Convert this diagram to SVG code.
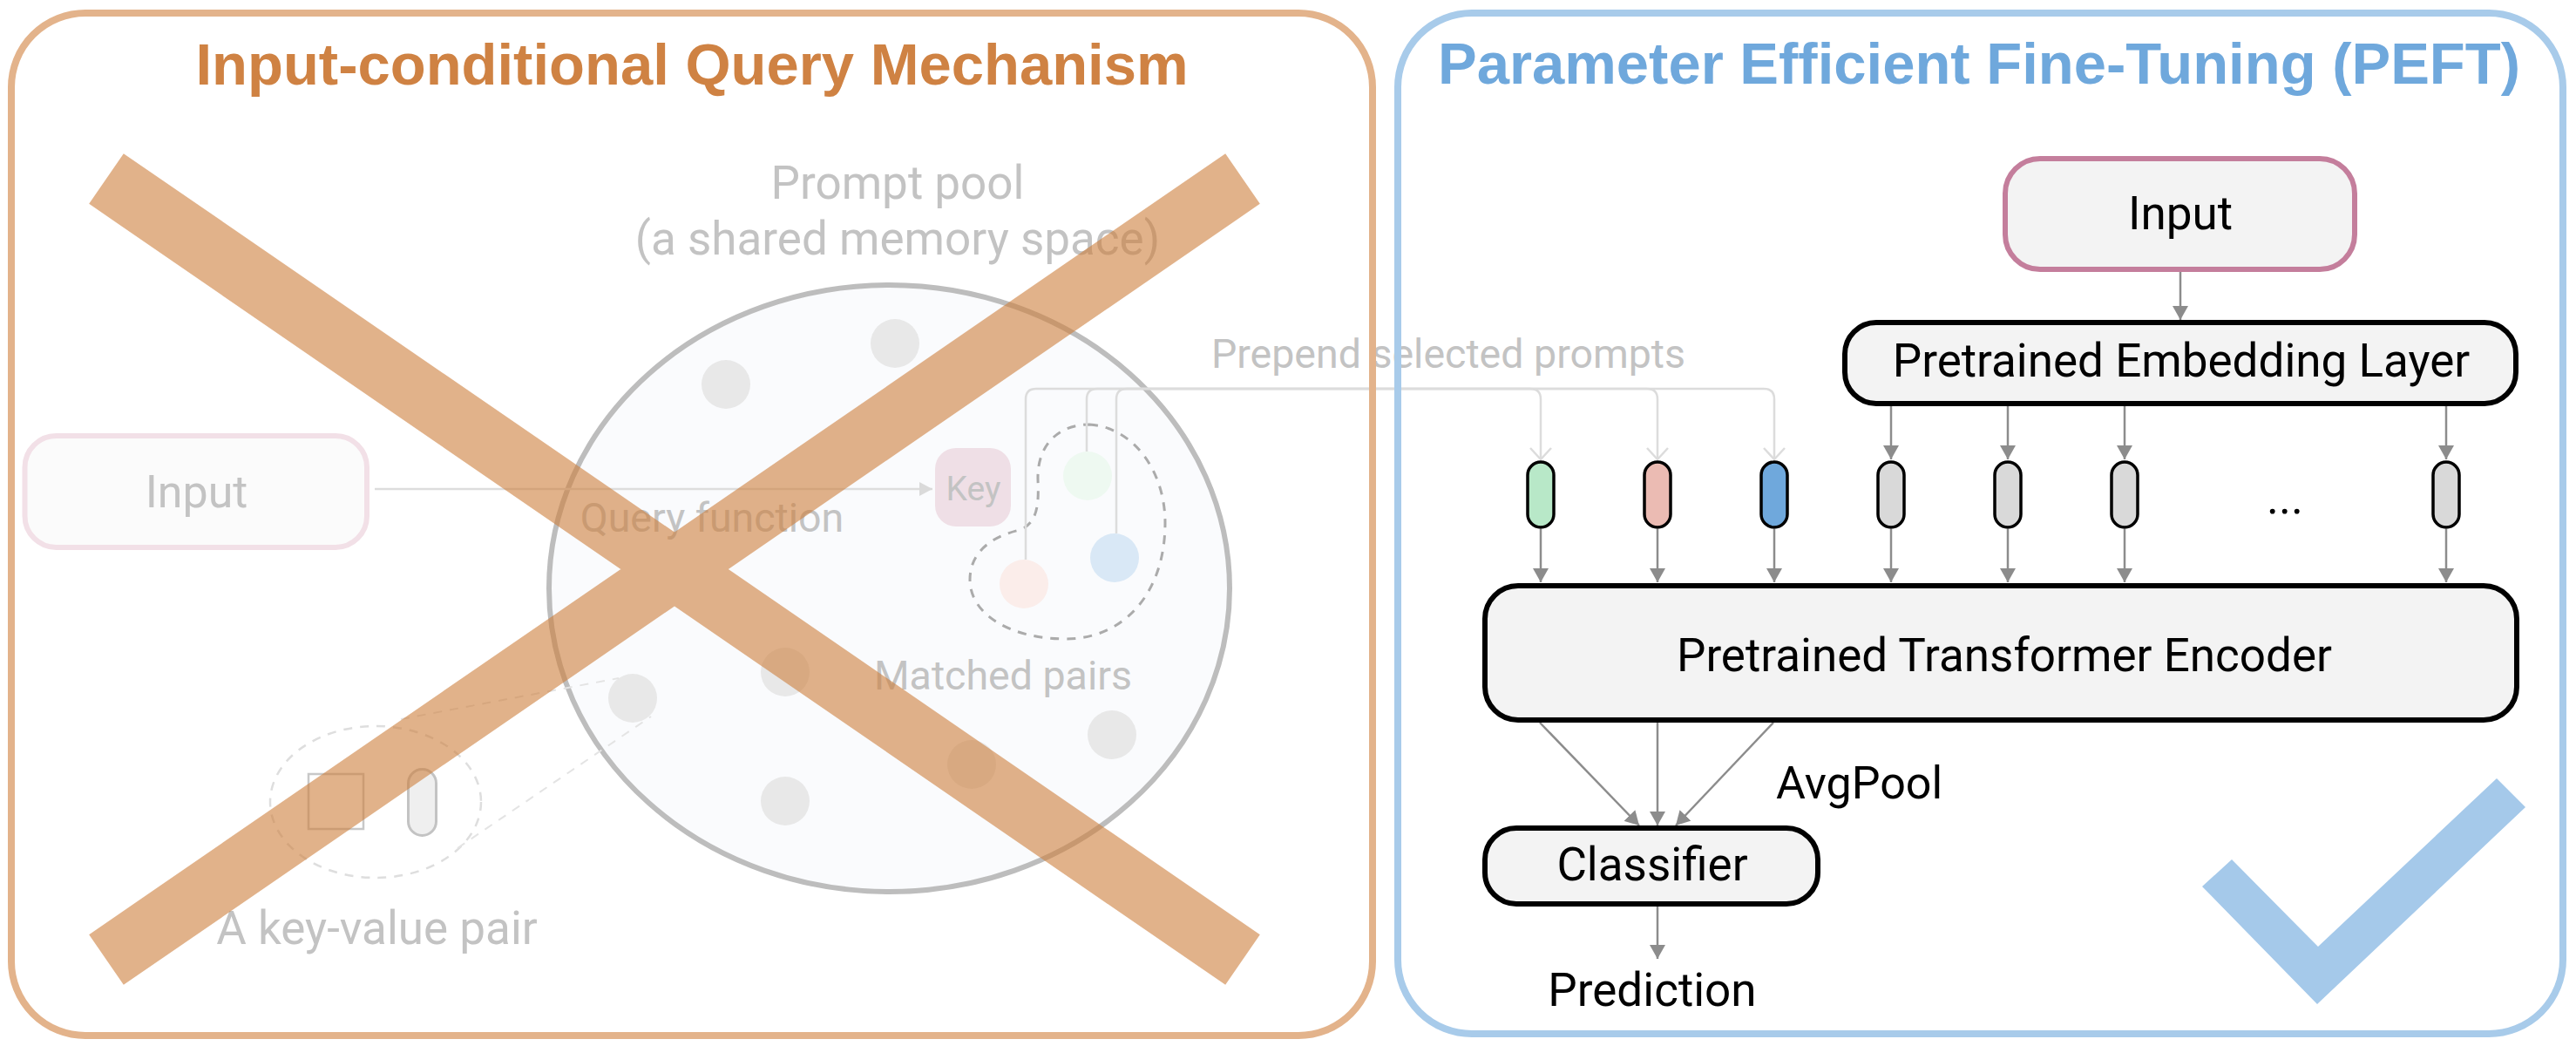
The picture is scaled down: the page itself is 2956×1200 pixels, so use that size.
<svg xmlns="http://www.w3.org/2000/svg" width="2956" height="1200" viewBox="0 0 2956 1200">
<defs>
<style>
.t{font-family:Roboto,"Liberation Sans",sans-serif;}
.title{font-family:"Liberation Sans",Arial,sans-serif;font-weight:bold;font-size:67px;text-anchor:middle;}
.fade{fill:#c3c3c3;}
.lbl{font-size:53px;fill:#000;text-anchor:middle;}
.box{fill:#f3f3f3;stroke:#000;stroke-width:6;}
.pill{stroke:#000;stroke-width:3.5;}
.dot{fill:#e8e8e8;}
.arr{stroke:#8c8c8c;stroke-width:2.5;fill:none;marker-end:url(#ah);}
.lt{stroke:#dcdcdc;stroke-width:2.5;fill:none;}
</style>
<marker id="ah" viewBox="0 0 16 18" refX="16" refY="9" markerWidth="16" markerHeight="18" orient="auto" markerUnits="userSpaceOnUse"><path d="M0,0 L16,9 L0,18 z" fill="#8c8c8c"/></marker>
<marker id="ahl" viewBox="0 0 15 16" refX="15" refY="8" markerWidth="15" markerHeight="16" orient="auto" markerUnits="userSpaceOnUse"><path d="M0,0 L15,8 L0,16 z" fill="#dadada"/></marker>
</defs>
<rect width="2956" height="1200" fill="#fff"/>
<rect x="13" y="15" width="1562" height="1173" rx="85" fill="#fff"/>
<rect x="1604" y="15" width="1337" height="1171" rx="85" fill="#fff"/>

<g id="left-title"><text class="title" x="794" y="97" fill="#cf8243">Input-conditional Query Mechanism</text></g>
<g id="right-title"><text class="title" x="2271" y="96" fill="#6fa8dc">Parameter Efficient Fine-Tuning (PEFT)</text></g>

<g id="prompt-pool">
<ellipse cx="1020.5" cy="675" rx="390.5" ry="348" fill="#fafbfd" stroke="#bdbdbd" stroke-width="6"/>
<circle class="dot" cx="1027" cy="394" r="28"/>
<circle class="dot" cx="833" cy="441" r="28"/>
<circle class="dot" cx="726" cy="801" r="28"/>
<circle class="dot" cx="901" cy="771" r="28"/>
<circle class="dot" cx="1276" cy="843" r="28"/>
<circle class="dot" cx="1115" cy="877" r="28"/>
<circle class="dot" cx="901" cy="919" r="28"/>
<text class="t fade" x="1030" y="228" font-size="53" text-anchor="middle">Prompt pool</text>
<text class="t fade" x="1030" y="292" font-size="53" text-anchor="middle">(a shared memory space)</text>
</g>

<g id="matched-pairs">
<path d="M1250,487 C1300,490 1337,540 1337,600 C1337,680 1290,733 1223,733 C1160,733 1113,705 1113,665 C1113,632 1140,615 1170,608 C1192,600 1192,575 1191,550 C1190,510 1215,487 1250,487 Z" fill="none" stroke="#ababab" stroke-width="3" stroke-dasharray="10 9"/>
<circle cx="1175" cy="670" r="28" fill="#fbedea"/>
<circle cx="1248" cy="546" r="28" fill="#eef9f1"/>
<circle cx="1279" cy="640" r="28" fill="#d9e8f6"/>
<text class="t fade" x="1151" y="791" font-size="46.5" text-anchor="middle">Matched pairs</text>
</g>

<g id="key">
<rect x="1073" y="514" width="87" height="90" rx="24" fill="#efdfe6"/>
<text class="t fade" x="1117" y="574" font-size="39" text-anchor="middle">Key</text>
</g>

<g id="input-left">
<rect x="28.5" y="500" width="392.5" height="128" rx="36" fill="#fbfbfb" stroke="#f2e0e7" stroke-width="6"/>
<text class="t fade" x="225.5" y="582" font-size="52" text-anchor="middle">Input</text>
</g>

<g id="query-label"><text class="t fade" x="817" y="610" font-size="46.5" text-anchor="middle">Query function</text></g>

<g id="key-value-pair">
<ellipse cx="431" cy="920" rx="121" ry="87" fill="none" stroke="#dedede" stroke-width="2.5" stroke-dasharray="10 9"/>
<path d="M460,825 L710,778 M525,973 L747,822" stroke="#e4e4e4" stroke-width="2" stroke-dasharray="10 9" fill="none"/>
<rect x="354" y="888" width="63" height="63" fill="none" stroke="#c8c8c8" stroke-width="2.5"/>
<rect x="468.5" y="882.5" width="32" height="76" rx="16" fill="#efefef" stroke="#c3c3c3" stroke-width="3"/>
<text class="t fade" x="432.5" y="1083" font-size="53" text-anchor="middle">A key-value pair</text>
</g>

<g id="connectors">
<line x1="430" y1="561" x2="1070" y2="561" stroke="#dddddd" stroke-width="2.5" marker-end="url(#ahl)"/>
<path class="lt" d="M1247,518 V458 Q1247,446 1259,446 H1756 Q1768,446 1768,458 V526"/>
<path class="lt" d="M1177,642 V458 Q1177,446 1189,446 H1890 Q1902,446 1902,458 V526"/>
<path class="lt" d="M1281,612 V458 Q1281,446 1293,446 H2024 Q2036,446 2036,458 V526"/>
<polyline class="lt" points="1756,514 1768,527 1780,514"/>
<polyline class="lt" points="1890,514 1902,527 1914,514"/>
<polyline class="lt" points="2024,514 2036,527 2048,514"/>
<line class="arr" x1="2502" y1="312" x2="2502" y2="367"/>
<line class="arr" x1="2170" y1="466" x2="2170" y2="527"/>
<line class="arr" x1="2304" y1="466" x2="2304" y2="527"/>
<line class="arr" x1="2438" y1="466" x2="2438" y2="527"/>
<line class="arr" x1="2807" y1="466" x2="2807" y2="527"/>
<line class="arr" x1="1768" y1="607" x2="1768" y2="668"/>
<line class="arr" x1="1902" y1="607" x2="1902" y2="668"/>
<line class="arr" x1="2036" y1="607" x2="2036" y2="668"/>
<line class="arr" x1="2170" y1="607" x2="2170" y2="668"/>
<line class="arr" x1="2304" y1="607" x2="2304" y2="668"/>
<line class="arr" x1="2438" y1="607" x2="2438" y2="668"/>
<line class="arr" x1="2807" y1="607" x2="2807" y2="668"/>
<line class="arr" x1="1767" y1="829" x2="1881" y2="947"/>
<line class="arr" x1="1902" y1="829" x2="1902" y2="947"/>
<line class="arr" x1="2035" y1="829" x2="1923" y2="947"/>
<line class="arr" x1="1902" y1="1040" x2="1902" y2="1100"/>
</g>

<g id="prepend-label"><text class="t fade" x="1662" y="422" font-size="46.5" text-anchor="middle">Prepend selected prompts</text></g>

<rect x="13" y="15" width="1562" height="1173" rx="85" fill="none" stroke="#e3b38b" stroke-width="8"/>
<rect x="1604" y="15" width="1337" height="1171" rx="85" fill="none" stroke="#a8cbea" stroke-width="8"/>

<g id="cross" opacity="0.6">
<path d="M122,205 L1426,1101 M1426,205 L122,1101" stroke="#cd7f3c" stroke-width="70" fill="none"/>
</g>

<g id="input">
<rect x="2301" y="182" width="401" height="127" rx="40" fill="#f3f3f3" stroke="#c47e9c" stroke-width="6"/>
<text class="t lbl" x="2502" y="263">Input</text>
</g>
<g id="embedding">
<rect class="box" x="2117" y="370" width="770" height="93" rx="36"/>
<text class="t lbl" x="2503" y="432">Pretrained Embedding Layer</text>
</g>
<g id="tokens">
<rect class="pill" x="1753" y="530" width="30" height="75" rx="15" fill="#b8e8c8"/>
<rect class="pill" x="1887" y="530" width="30" height="75" rx="15" fill="#ebbbb3"/>
<rect class="pill" x="2021" y="530" width="30" height="75" rx="15" fill="#6fa8dc"/>
<rect class="pill" x="2155" y="530" width="30" height="75" rx="15" fill="#d9d9d9"/>
<rect class="pill" x="2289" y="530" width="30" height="75" rx="15" fill="#d9d9d9"/>
<rect class="pill" x="2423" y="530" width="30" height="75" rx="15" fill="#d9d9d9"/>
<rect class="pill" x="2792" y="530" width="30" height="75" rx="15" fill="#d9d9d9"/>
<text class="t lbl" x="2622" y="589">...</text>
</g>
<g id="encoder">
<rect class="box" x="1704" y="672" width="1184" height="154" rx="38"/>
<text class="t lbl" x="2300" y="770">Pretrained Transformer Encoder</text>
</g>
<g id="avgpool"><text class="t" x="2038" y="916" font-size="52">AvgPool</text></g>
<g id="classifier">
<rect class="box" x="1704" y="950" width="382" height="87" rx="36"/>
<text class="t lbl" x="1896" y="1010">Classifier</text>
</g>
<g id="prediction"><text class="t lbl" x="1896" y="1154">Prediction</text></g>
<g id="check"><polygon points="2527,1017 2561,986 2660,1086 2865,893 2898,926 2659,1152" fill="#a5c9ea"/></g>
</svg>
